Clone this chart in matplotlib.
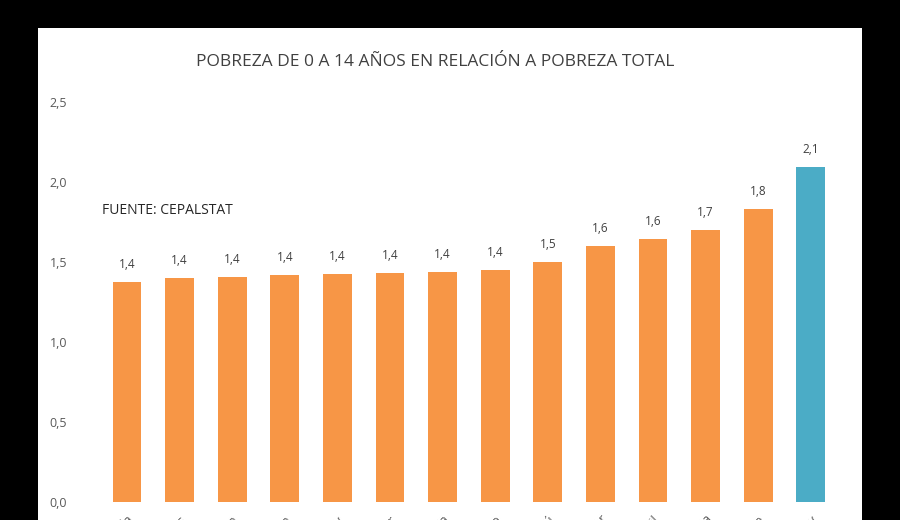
"""
Pobreza de 0 a 14 años en relación a pobreza total (CEPALSTAT).
"""
import matplotlib
matplotlib.use("Agg")
import matplotlib.pyplot as plt
import numpy as np

plt.rcParams["font.family"] = ["Open Sans", "DejaVu Sans"]

# datos
paises = ["Guatemala", "Honduras", "Nicaragua", "Bolivia", "Paraguay", "Ecuador",
          "Colombia", "México", "Perú", "El Salvador", "Brasil", "Costa Rica",
          "Chile", "Uruguay"]
ratio = [1.375, 1.396, 1.406, 1.417, 1.423, 1.431, 1.437, 1.448,
         1.50, 1.60, 1.64, 1.70, 1.83, 2.09]
etiquetas = ["1,4", "1,4", "1,4", "1,4", "1,4", "1,4", "1,4", "1,4",
             "1,5", "1,6", "1,6", "1,7", "1,8", "2,1"]
destacado = "Uruguay"

NARANJA = "#F79646"
CELESTE = "#4BACC6"
GRIS = "#595959"

W, H = 900, 520
fig = plt.figure(figsize=(W / 100, H / 100), dpi=100, facecolor="black")

# panel blanco (detrás de todo)
bg = fig.add_axes([38 / W, 0, (862 - 38) / W, (520 - 28) / H], zorder=-1)
bg.set_facecolor("white")
bg.set_axis_off()
bg.add_patch(plt.Rectangle((0, 0), 1, 1, transform=bg.transAxes,
                           facecolor="white", edgecolor="none"))

left, right = 100.7, 837.1
bottom, top = 501.7, 101.7
ax = fig.add_axes([left / W, (H - bottom) / H, (right - left) / W, (bottom - top) / H],
                  zorder=1)
ax.set_facecolor("none")

x = np.arange(len(paises))
colores = [CELESTE if p == destacado else NARANJA for p in paises]
bars = ax.bar(x, ratio, width=0.55, color=colores, zorder=2)

for b, t in zip(bars, etiquetas):
    ax.annotate(t, (b.get_x() + b.get_width() / 2, b.get_height()),
                xytext=(0, 8), textcoords="offset points",
                ha="center", va="bottom", fontsize=8.5, color="#404040")

ax.set_xlim(-0.5, len(paises) - 0.5)
ax.set_ylim(0, 2.5)
ax.set_yticks(np.arange(0, 2.51, 0.5))
ax.set_yticklabels([f"{v:.1f}".replace(".", ",") for v in np.arange(0, 2.51, 0.5)])
ax.set_xticks(x)
ax.set_xticklabels(paises, rotation=45, ha="right", rotation_mode="anchor")
ax.tick_params(axis="both", length=0, labelsize=9, colors=GRIS)
ax.tick_params(axis="y", pad=24)
ax.tick_params(axis="x", pad=8)
for s in ax.spines.values():
    s.set_visible(False)

fig.text(435 / W, (H - 62) / H, "POBREZA DE 0 A 14 AÑOS EN RELACIÓN A POBREZA TOTAL",
         ha="center", va="center", fontsize=12.5, color="#404040")
fig.text(102 / W, (H - 210) / H, "FUENTE: CEPALSTAT",
         ha="left", va="center", fontsize=10, color="#262626")

fig.savefig("out.png", dpi=100, facecolor="black")
